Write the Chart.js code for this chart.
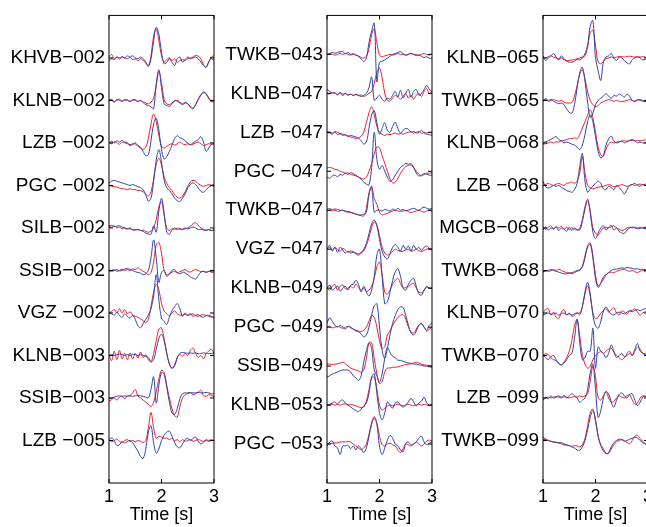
<!DOCTYPE html>
<html>
<head>
<meta charset="utf-8">
<script src="https://cdn.jsdelivr.net/npm/chart.js@4.4.1/dist/chart.umd.min.js"></script>
<style>
	html, body { margin: 0; padding: 0; background: #fff; }
	body { position: relative; width: 646px; height: 527px; overflow: hidden; }
	canvas { position: absolute; top: 0; }
</style>
</head>
<body>
<canvas id="panel1" width="224" height="527" style="left:0px"></canvas>
<canvas id="panel2" width="226" height="527" style="left:216px"></canvas>
<canvas id="panel3" width="226" height="527" style="left:432px"></canvas>
<script>
// sample times (s)
const times = [1.00, 1.05, 1.10, 1.15, 1.20, 1.25, 1.30, 1.35, 1.40, 1.45,
	1.50, 1.55, 1.60, 1.65, 1.70, 1.75, 1.80, 1.85, 1.90, 1.95,
	2.00, 2.05, 2.10, 2.15, 2.20, 2.25, 2.30, 2.35, 2.40, 2.45,
	2.50, 2.55, 2.60, 2.65, 2.70, 2.75, 2.80, 2.85, 2.90, 2.95,
	3.00];
const xTicks = [1, 2, 3];

const namesA = ['KHVB\u2212002', 'KLNB\u2212002', 'LZB \u2212002', 'PGC \u2212002', 'SILB\u2212002', 'SSIB\u2212002', 'VGZ \u2212002', 'KLNB\u2212003', 'SSIB\u2212003', 'LZB \u2212005'];
const namesB = ['TWKB\u2212043', 'KLNB\u2212047', 'LZB \u2212047', 'PGC \u2212047', 'TWKB\u2212047', 'VGZ \u2212047', 'KLNB\u2212049', 'PGC \u2212049', 'SSIB\u2212049', 'KLNB\u2212053', 'PGC \u2212053'];
const namesC = ['KLNB\u2212065', 'TWKB\u2212065', 'KLNB\u2212068', 'LZB \u2212068', 'MGCB\u2212068', 'TWKB\u2212068', 'KLNB\u2212070', 'TWKB\u2212070', 'LZB \u2212099', 'TWKB\u2212099'];

// amplitudes, 1 = spacing between traces
const redA = [
	[0.02,0.08,-0.02,0.02,-0.03,0.02,0,-0.02,0.01,-0.04, -0.02,-0.07,-0.02,-0.06,-0.12,-0.18,0.05,0.52,0.68,0.4, 0.05,-0.1,-0.04,0,-0.06,-0.02,-0.1,-0.06,-0.04,-0.06, -0.02,0,0.02,0.06,0.04,-0.02,-0.16,-0.22,-0.1,0.02, 0.05],
	[-0.02,0.03,-0.04,0,0.03,-0.02,0,0.02,-0.03,0, 0.02,-0.02,0,-0.04,-0.06,-0.08,-0.04,0.05,0.35,0.68, 0.42,0.02,-0.08,-0.1,-0.06,-0.02,0,-0.04,-0.08,-0.05, -0.08,-0.14,-0.18,-0.1,0.02,0.12,0.18,0.16,0.06,-0.02, -0.02],
	[0.02,-0.02,0.03,0,-0.03,0.02,0,-0.02,-0.06,-0.04, -0.02,-0.08,-0.12,-0.15,-0.1,0.1,0.45,0.68,0.5,0.18, -0.08,-0.12,-0.08,-0.04,-0.02,-0.05,-0.02,0.02,-0.02,-0.04, -0.02,-0.05,-0.03,0,0.02,-0.02,-0.06,-0.04,-0.02,-0.03, -0.02],
	[0,-0.02,-0.03,-0.04,-0.06,-0.08,-0.08,-0.1,-0.08,-0.1, -0.1,-0.12,-0.12,-0.15,-0.2,-0.25,-0.15,0.15,0.5,0.64, 0.48,0.2,0.05,-0.05,-0.12,-0.22,-0.28,-0.3,-0.25,-0.15, -0.02,0.08,0.12,0.1,0.04,0,-0.02,0,0.02,0, -0.02],
	[0.04,0.02,0.05,0,0.02,-0.02,0,-0.03,-0.02,-0.05, -0.04,-0.03,-0.06,-0.05,-0.08,-0.1,-0.08,0,0.2,0.5, 0.62,0.3,0,-0.06,-0.02,-0.04,0,-0.02,-0.04,-0.02, 0,0.04,0.1,0.12,0.06,0,-0.03,-0.05,-0.04,-0.06, -0.05],
	[-0.02,0,0.02,-0.02,0,0.03,0,0.02,0,0.04, 0.02,0.06,0.02,-0.02,-0.05,-0.1,-0.05,0.2,0.6,0.66, 0.4,0,-0.1,-0.08,-0.04,-0.02,-0.05,-0.03,0,0.02, -0.02,-0.04,0,0.02,0,-0.03,-0.02,-0.05,-0.02,-0.04, -0.03],
	[0,0.04,0.08,0,0.1,0,0.08,-0.02,0.03,-0.04, -0.08,-0.1,-0.14,-0.18,-0.23,-0.15,0.15,0.5,0.67,0.55, 0.22,0.05,-0.02,-0.06,0,0.05,-0.02,-0.05,-0.05,-0.03, -0.06,-0.04,-0.02,-0.06,-0.08,-0.05,-0.04,-0.06,-0.05,-0.08, -0.1],
	[0,-0.12,0.1,-0.1,0.12,-0.08,0.05,-0.1,0.06,-0.08, 0.05,-0.06,0.08,-0.05,0.02,-0.1,-0.15,0.05,0.35,0.62, 0.65,0.4,0.05,-0.2,-0.3,-0.22,-0.05,0.02,-0.02,0.05, 0,0.12,0.17,0.05,-0.05,0,-0.08,0.05,0.1,0.15, 0.05],
	[-0.08,-0.04,0,-0.05,0.02,0.04,-0.02,0.05,0.06,0.12, 0.2,0.05,0,-0.05,-0.1,-0.15,-0.2,-0.1,0.15,0.45, 0.65,0.6,0.3,0,-0.25,-0.42,-0.45,-0.2,0,0.08, 0.1,0.12,0.08,0.1,0.14,0.18,0.06,0.04,0.08,0.06, 0.04],
	[0.02,-0.03,0,0.03,-0.02,-0.05,0,0.02,-0.02,0, -0.03,0,-0.02,-0.05,0,0.3,0.66,0.3,0.05,0.1, 0.08,0.05,0.06,0.02,0.05,0,0.02,-0.03,0.02,-0.02, 0,0.02,-0.02,0,0.02,0,-0.02,0.02,0,0.02, 0]
];
const blueA = [
	[-0.06,-0.02,-0.04,0.02,0,0.03,0,0.05,0.02,0.05, 0,-0.02,0.02,-0.02,-0.1,-0.2,-0.02,0.4,0.72,0.56, 0.13,-0.14,-0.1,-0.02,-0.1,-0.18,-0.02,0.02,-0.1,-0.04, 0.02,-0.02,0,0.02,-0.02,-0.1,-0.18,-0.22,-0.09,-0.02, -0.06],
	[0.02,0,-0.03,0.02,0,-0.02,0.02,0,-0.02,0.02, 0,-0.03,0,-0.05,-0.1,-0.12,-0.15,-0.2,0.4,0.72, 0.3,-0.08,-0.12,-0.14,-0.08,0,-0.02,-0.06,-0.1,-0.06, -0.08,-0.16,-0.2,-0.1,0.03,0.14,0.2,0.15,0.04,-0.03, -0.02],
	[0,0.04,0,0.05,0.02,0.06,0.02,0,-0.04,-0.02, 0,-0.06,-0.1,-0.2,-0.3,-0.28,0.05,0.45,0.58,0.3, -0.15,-0.38,-0.32,-0.2,-0.05,0.1,0.17,0.12,0.1,0.05, 0,-0.04,0,0.04,0.08,0.15,0.02,-0.2,-0.12,-0.04, -0.02],
	[0.05,0.1,0.12,0.1,0.08,0.06,0.04,0.02,0,0.02, 0,-0.03,-0.05,-0.1,-0.22,-0.37,-0.3,0.1,0.6,0.84, 0.55,0.12,-0.05,-0.12,-0.2,-0.3,-0.36,-0.38,-0.3,-0.2, -0.06,0.02,0.06,0.02,-0.06,-0.14,-0.16,-0.1,-0.04,0, 0.02],
	[0.05,0.06,0.03,0.04,0.05,0.02,0,-0.02,0,-0.04, -0.05,-0.04,-0.06,-0.08,-0.12,-0.14,-0.15,0.05,-0.1,0.4, 0.7,0.35,-0.1,-0.15,-0.05,0,-0.04,-0.02,-0.03,0, -0.02,0,0.02,0,-0.04,-0.03,-0.05,-0.06,-0.04,-0.06, -0.05],
	[0,-0.02,0,0.02,-0.01,0,0.03,0.05,0.02,0, -0.03,-0.05,-0.06,-0.1,-0.08,0,0.3,0.72,0.3,-0.28, -0.05,0,-0.14,-0.08,0,0.02,-0.06,-0.08,-0.04,-0.06, -0.1,-0.15,-0.18,-0.2,-0.12,-0.04,-0.02,-0.04,-0.02,-0.03, -0.04],
	[0,-0.02,-0.05,0.02,-0.06,-0.1,-0.02,-0.08,-0.12,-0.06, -0.15,-0.3,-0.35,-0.25,-0.15,-0.05,0.1,0.4,0.9,0.3, -0.12,-0.2,-0.27,-0.1,0.05,0.15,0.22,0.1,-0.08,0, -0.05,-0.02,-0.08,-0.06,-0.04,-0.08,-0.1,-0.06,-0.08,-0.1, -0.1],
	[0,0.02,0,0.02,0.03,0.02,0,0.02,0,0.03, 0.02,0,0.02,0,-0.02,-0.05,-0.15,-0.1,0.15,0.4, 0.5,0.35,0.05,-0.2,-0.3,-0.25,-0.05,0.05,0.07,0.06, 0.05,0.06,0.05,0.06,0.04,0.05,0.06,0.05,0.04,0.05, 0.05],
	[-0.02,0,0.02,0.04,0.05,0.04,0.05,0.04,0.05,0.04, 0.05,0.06,0.05,0.04,0.02,0,0.2,0.5,-0.12,0.3, 0.6,0.55,0.25,-0.1,-0.35,-0.39,-0.25,-0.02,0.1,0.12, 0.12,0.13,0.12,0.12,0.13,0.12,0.12,0.13,0.12,0.1, 0.1],
	[0.02,0.06,0,-0.12,-0.1,-0.02,-0.06,-0.02,0,-0.05, -0.15,-0.25,-0.38,-0.42,-0.2,0.2,0.35,-0.05,-0.3,-0.2, 0,0.12,0.2,0.22,0.1,-0.05,-0.15,-0.17,-0.08,0.02, 0.05,0,0.05,0.08,-0.02,-0.08,-0.04,0,-0.02,0, 0]
];

const redB = [
	[0,0.02,0,-0.02,0,0.03,0,0.02,0,-0.02, 0,-0.02,-0.04,-0.08,-0.1,-0.05,0.15,0.5,0.66,0.3, -0.02,-0.06,-0.04,-0.02,0,-0.02,0,0.02,0,0, -0.02,0,0.02,0,0,-0.02,0,0.02,0,-0.02, 0.02],
	[0,-0.02,0.02,0,-0.03,0.02,-0.02,0,-0.04,-0.02, -0.05,-0.03,-0.06,-0.04,-0.08,-0.05,0,0.05,0.25,0.55, 0.65,0.4,0,-0.18,-0.2,-0.12,-0.05,-0.1,-0.15,-0.08, 0,-0.12,-0.05,-0.15,-0.05,0,-0.08,0.05,0.12,0, 0.05],
	[0.02,0,-0.02,0.02,0,-0.03,-0.05,-0.08,-0.1,-0.12, -0.14,-0.16,-0.14,-0.1,0,0.25,0.5,0.66,0.45,0.15, 0,-0.05,-0.08,-0.05,-0.06,-0.04,-0.02,-0.05,-0.03,-0.05, -0.02,0,0.02,-0.02,0,0.02,-0.03,0,-0.02,0, -0.02],
	[0.08,0.1,0.08,0.05,0.04,0,-0.02,-0.05,-0.04,-0.08, -0.1,-0.12,-0.15,-0.18,-0.2,-0.15,0,0.2,0.45,0.62, 0.6,0.4,0.2,0,-0.2,-0.3,-0.28,-0.18,-0.05,0.05, 0.12,0.15,0.16,0.1,0,-0.08,-0.12,-0.08,-0.05,-0.05, -0.04],
	[-0.02,0,-0.02,0,-0.03,-0.02,0,-0.04,-0.05,-0.06, -0.08,-0.1,-0.12,-0.14,-0.15,0.05,0.45,0.62,0.3,0.15, -0.05,-0.12,-0.1,-0.08,-0.05,-0.02,0,-0.02,-0.03,-0.02, 0,-0.03,-0.06,-0.04,-0.02,0,-0.03,-0.05,-0.02,0, -0.02],
	[0,0.05,-0.02,0.04,0,-0.05,0.02,-0.02,-0.08,-0.05, -0.06,-0.1,-0.12,-0.08,-0.05,0.1,0.3,0.55,0.7,0.62, 0.35,0.05,-0.1,-0.15,-0.12,-0.05,0,-0.03,-0.06,-0.05, -0.02,0,-0.05,-0.03,0,-0.04,-0.06,-0.03,0,0.02, 0],
	[0,-0.05,0.05,0.1,-0.05,0.05,0.08,-0.02,0,0.05, 0,0.1,0.02,-0.05,0,-0.08,-0.05,0.05,0.25,0.55, 0.67,0.35,-0.1,-0.15,-0.05,0.1,0.2,0.25,0.12,0, 0.02,0.05,0.1,0.12,0,-0.1,-0.12,-0.05,0.02,0, 0],
	[0,0.02,-0.02,0,0.02,0,-0.03,0,0.02,-0.02, -0.05,-0.08,-0.1,-0.12,-0.08,0,0.15,0.3,0.25,0, -0.35,-0.55,-0.5,-0.2,-0.1,0.05,0.15,0.25,0.3,0.32, 0.2,0,-0.12,-0.15,-0.05,0.05,0.08,0,-0.1,-0.05, 0],
	[0.05,0.05,0.04,0.05,0.06,0.08,0.1,0.06,0,-0.05, -0.08,-0.1,-0.12,-0.16,-0.1,0.2,0.6,0.6,0.2,-0.2, -0.45,-0.4,-0.15,-0.05,-0.05,-0.03,-0.03,-0.02,0,0.02, 0.04,0.05,0.06,0.08,0.1,0.08,0.05,0.03,0.02,0.02, 0],
	[0,0,0.02,0,0.02,0,0.02,0.03,0,0.02, 0,-0.02,-0.05,-0.06,-0.05,0.1,0.4,0.7,0.72,0.4, 0,-0.13,-0.08,-0.03,0,-0.02,0,0.02,0,-0.02, 0,0.02,0,-0.02,0,0.02,0,0.02,0,-0.02, 0],
	[0,0.01,0.02,0.03,0.03,0.05,0.06,0.05,0.07,0.05, 0,-0.05,-0.1,-0.14,-0.1,0,0.25,0.55,0.7,0.55, 0.2,-0.02,-0.05,0,0.02,-0.02,-0.05,-0.15,-0.22,-0.12, 0,-0.02,-0.05,0,0.05,0,-0.05,0,0.08,0.1, 0.08]
];
const blueB = [
	[0,0.02,0.05,0.03,0.05,0.07,0.07,0.02,0.05,0, 0.02,-0.02,-0.05,-0.12,-0.18,-0.1,0.3,0.6,0.8,-0.7, -0.2,-0.18,-0.14,-0.1,-0.05,0,0.02,0.05,0.07,0.02, -0.02,0,0.03,0,-0.03,-0.02,-0.05,-0.08,-0.06,-0.1, -0.1],
	[0.1,0.05,0,0.02,-0.04,0.02,-0.06,0,-0.05,-0.02, -0.06,-0.02,-0.05,-0.08,-0.05,0,0.15,0.42,-0.18,-0.12, -0.05,-0.15,-0.2,-0.12,-0.15,-0.05,0.05,-0.1,0.08,-0.12, 0,0.1,-0.1,0.05,0.1,-0.05,0,0.1,0.2,0.1, 0.05],
	[0,-0.02,-0.05,0,-0.06,-0.04,-0.08,-0.05,-0.1,-0.08, -0.1,-0.12,-0.15,-0.22,-0.3,-0.25,0.1,0.45,0.55,0.25, -0.05,0.1,0.25,0.05,0,0.15,0.26,0.1,-0.02,0.05, 0.1,0.08,0,0.02,-0.02,0,0.05,-0.02,-0.05,-0.06, -0.08],
	[-0.15,-0.18,-0.12,-0.1,-0.14,-0.08,-0.1,-0.05,-0.08,-0.04, -0.06,-0.1,-0.15,-0.2,-0.28,-0.33,-0.35,0.1,1.0,0.3, 0.05,0.15,0,-0.15,-0.26,-0.22,-0.1,0,0.1,0.15, 0.2,0.18,0.2,0.1,-0.05,-0.12,-0.1,-0.06,-0.08,-0.1, -0.1],
	[0.03,0.04,0.02,0.03,0.02,0,0,-0.02,-0.03,-0.05, -0.07,-0.1,-0.12,-0.12,-0.1,-0.05,0.4,0.58,-0.05,0, 0,-0.02,0.02,0,-0.02,0.03,0,0.05,0,0.02, -0.02,0,0.03,0.05,0.02,0,0.05,0.08,0.05,0.03, 0.05],
	[0,0.1,-0.05,0.05,-0.08,0.05,-0.02,-0.1,-0.05,-0.1, -0.08,-0.12,-0.15,-0.1,0,0.15,0.4,0.65,0.75,0.6, 0.25,-0.05,-0.2,-0.25,-0.12,0.05,0.12,0.05,-0.05,0.1, 0,0.08,-0.05,0.1,0,0.05,-0.03,0.05,0.08,0.02, -0.02],
	[0,0.08,-0.05,0,0.05,-0.08,0,0.05,-0.05,0.08, 0.1,0.2,0.1,-0.1,0.05,-0.1,-0.2,-0.05,0.3,0.85, 1.0,0.3,-0.4,-0.35,-0.1,0.2,0.42,0.5,0.3,0, -0.05,0.1,0.2,0.25,0.05,-0.15,-0.18,-0.05,0.05,0, 0],
	[0.1,0.24,0.15,0.05,0,0.05,0,-0.05,0.02,0, -0.05,-0.1,-0.12,-0.18,-0.25,-0.2,0,0.3,0.55,0.6, 0,-0.6,-0.8,-0.55,-0.2,0.1,0.3,0.45,0.52,0.5, 0.3,0.05,-0.15,-0.2,-0.1,0.05,0.1,0,-0.08,0.05, 0.1],
	[-0.28,-0.25,-0.2,-0.18,-0.15,-0.12,-0.1,-0.1,-0.1,-0.15, -0.25,-0.3,-0.37,-0.25,0.1,0.4,0.6,0.45,-0.1,-0.25, -0.41,-0.2,0.2,0.48,0.35,0.25,0.22,0.15,0.15,0.12, 0.1,0.08,0.07,0.05,0.05,0.03,0.02,0,0,-0.02, -0.03],
	[0,0.02,0.05,0.08,0.03,0.1,0.13,0.05,0,-0.05, -0.1,-0.14,-0.17,-0.1,-0.02,0.05,0.3,0.72,0.8,0.3, -0.2,-0.38,-0.2,0.08,0,-0.08,0.05,0.08,0,-0.05, 0,0.08,0.17,0.08,-0.02,0.05,0.1,0.2,0.05,0, 0.02],
	[-0.05,0.05,0.08,-0.05,-0.1,-0.27,-0.05,-0.05,-0.03,-0.12, -0.05,-0.15,-0.05,-0.12,-0.22,-0.1,0.2,0.5,0.66,0.5, -0.05,-0.27,-0.1,0.1,0.22,0.15,0,-0.05,-0.15,-0.2, 0.02,0.05,-0.02,0,0.05,0.15,0.2,0.05,-0.02,0.02, 0.05]
];

const redC = [
	[0.02,0,0.03,0.05,0.02,0,-0.02,0,-0.04,-0.06, -0.06,-0.05,-0.04,-0.02,0,0.02,0.05,0.25,0.6,0.65, 0.3,-0.1,-0.14,-0.08,-0.02,0,0.02,0,0.02,0.03, 0.03,0.02,0.03,0.04,0.03,0.02,0.03,0.02,0.03,0.02, 0.02],
	[0,0.02,-0.02,0,0.02,0,-0.02,0,-0.04,-0.06, -0.06,-0.05,0.1,0.35,0.62,0.72,0.5,0.2,0,-0.1, -0.15,-0.12,-0.06,-0.03,0,0.02,0,-0.02,0,-0.02, -0.03,-0.02,0,0.02,0,-0.02,0,0.02,0,-0.02, 0],
	[-0.03,-0.02,0,0.02,0,0.03,0.02,0.05,0.06,0.08, 0.1,0.1,0.12,0.1,0.2,0.35,0.5,0.65,0.78,0.6, 0.25,-0.1,-0.28,-0.31,-0.15,-0.02,0.02,0,0.02,0.03, 0.04,0.05,0.04,0.05,0.06,0.05,0.06,0.05,0.06,0.07, 0.08],
	[0,0.02,0.05,0.02,0,0.03,0.05,0.02,0,0.05, 0.06,0.08,0.05,0.1,0.3,0.68,0.3,0,-0.05,-0.08, -0.06,-0.04,-0.03,-0.02,0,0.02,0,-0.03,-0.02,0, 0.02,0,-0.02,0,0.02,0,0.02,0.03,0.02,0.03, 0.02],
	[0,-0.03,0.02,0.05,-0.02,0.03,0,0.04,-0.03,0.02, -0.04,0,-0.03,-0.05,0,0.2,0.5,0.68,0.4,0, -0.12,-0.17,-0.08,0,0.02,0,0.03,0.05,0,-0.03, -0.06,-0.04,0,0.02,0,0.02,0,0.02,0,0.02, 0.02],
	[-0.04,0,-0.02,-0.01,0.02,0,0.03,0,-0.03,-0.05, -0.06,-0.08,-0.05,-0.02,0,0.1,0.35,0.58,0.65,0.35, -0.1,-0.36,-0.3,-0.22,-0.1,-0.05,-0.04,-0.05,-0.02,0, 0.02,0.03,0,-0.02,0,-0.03,-0.05,-0.02,0,-0.03, -0.04],
	[0,0.08,0.1,-0.05,0.02,-0.1,-0.13,0.02,0.08,-0.05, 0,-0.08,-0.05,0,0,0.15,0.45,0.64,0.4,0, -0.13,-0.1,0,0.05,0.1,0.02,0.08,0.12,0,-0.05, 0.05,0.02,-0.03,0.05,0.06,0.1,0.02,-0.05,0,0.03, 0.02],
	[0,0.04,0.02,-0.05,-0.1,-0.12,-0.2,-0.22,-0.15,-0.05, 0.1,0.35,0.7,0.85,0.45,0,-0.2,-0.3,-0.25,-0.1, 0,0.05,0.1,0.05,0.1,0.15,0.17,0.08,0,-0.05, -0.1,-0.05,0.05,0.1,0,0.1,0.2,0.15,0.05,0.05, 0.05],
	[-0.05,0,0.02,0,0.02,0.03,0.02,0,0.03,0.02, 0,0.02,0.03,0.02,0.05,0.03,0.05,0.1,0.4,0.75, 0.5,0,-0.05,0.05,0.15,0,-0.1,-0.08,0,0.05, 0.02,0,0.05,0.08,-0.05,-0.15,-0.12,0,0.05,0.03, 0.02],
	[0.08,0.04,0,-0.02,-0.04,-0.05,-0.06,-0.08,-0.1,-0.12, -0.12,-0.14,-0.12,-0.13,-0.15,-0.1,0.05,0.35,0.65,0.74, 0.45,0.1,-0.1,-0.2,-0.3,-0.31,-0.2,-0.1,-0.03,0, 0.02,0,-0.05,-0.08,0,0.1,0.12,0.05,-0.02,-0.08, -0.08]
];
const blueC = [
	[0.05,-0.06,0,0.05,0.1,0.02,-0.05,0.05,-0.02,-0.08, -0.1,-0.1,-0.08,-0.03,-0.05,0,0.1,0.3,0.75,0.88, 0,-0.3,-0.53,-0.1,0.02,0.05,0.1,0,-0.06,0.02, 0,-0.06,-0.12,-0.14,-0.04,0,0.02,0,-0.05,-0.03, -0.02],
	[-0.03,0.04,0,0.02,-0.02,-0.05,-0.08,-0.06,-0.1,-0.2, -0.28,-0.3,-0.1,0.3,0.65,0.78,0.45,-0.05,-0.4,-0.3, -0.1,0,0.05,0.1,0.16,0.1,0.05,0.12,0.1,0.15, 0.12,0.08,0.15,0.1,0,-0.02,0.02,0,-0.02,-0.03, -0.03],
	[0,0.03,0.05,0.08,0.12,0.15,0.08,0.05,0,0.02, 0,-0.03,-0.05,-0.1,-0.15,-0.05,0.2,0.5,0.66,0.5, 0.15,-0.2,-0.35,-0.3,-0.05,0.1,0.16,0.05,0,0.02, 0.05,0,0.03,0.06,0.08,0.05,0,0.02,0,0, 0],
	[0.1,-0.03,-0.06,-0.04,0,-0.02,0,-0.05,-0.08,-0.12, -0.14,-0.16,-0.1,0.05,0.45,0.75,0.1,-0.16,-0.08,-0.02, 0.05,0.1,0.05,-0.08,-0.1,-0.02,-0.05,-0.1,0,-0.05, -0.12,-0.2,-0.1,0,0.02,0.05,0,-0.02,0.02,0, 0],
	[-0.05,0.02,-0.05,0,-0.02,0.02,-0.06,0,-0.03,-0.08, 0.02,-0.06,0,-0.04,-0.05,0.15,0.45,0.64,0.35,-0.1, -0.25,-0.12,0,0.05,-0.05,0.02,0.06,-0.05,0,-0.08, -0.12,-0.13,-0.05,0,0.02,0,-0.02,-0.01,0,-0.02, -0.02],
	[-0.03,-0.02,0,0.02,0,-0.02,-0.04,-0.06,-0.08,-0.08, -0.06,-0.05,-0.03,0,0.02,0.08,0.3,0.55,0.61,0.3, -0.2,-0.4,-0.3,-0.15,-0.1,-0.05,0,0.03,0.03,0.05, 0.06,0.05,0.07,0.06,0.05,0.03,0.04,0.02,0.03,0.02, 0.03],
	[-0.05,-0.02,0,-0.03,-0.02,0,-0.05,-0.02,0,-0.04, -0.02,-0.05,-0.02,0,-0.04,0.15,0.5,0.72,0.45,-0.05, -0.3,-0.36,-0.2,0.05,0.14,0.05,-0.03,-0.05,0,0.02, 0,-0.02,0.02,0.05,0.03,0.06,0.08,0.05,0.08,0.1, 0.08],
	[0,-0.05,-0.1,-0.03,0,-0.1,-0.18,-0.22,-0.18,-0.1, 0,0.05,0.4,0.85,0.3,-0.1,-0.05,0.1,0.1,0.64, -0.3,0.2,0.1,0.05,-0.05,0.05,0.25,0.1,-0.05,0, 0.05,-0.03,0,0.05,0,0.15,0.28,0.1,0.05,0.02, 0.02],
	[-0.05,0.02,-0.02,0.05,0,0.02,0.05,0.02,0.06,0, 0.05,0.1,0.05,0,-0.1,-0.05,0,0.2,0.6,0.8, 0.2,-0.46,-0.3,0,0.15,0.1,-0.1,-0.22,-0.05,0.08, 0.12,0.05,0,0.08,0.1,-0.05,-0.18,-0.1,0.02,0.05, 0.05],
	[0.03,0.02,0,-0.02,-0.03,-0.04,-0.05,-0.05,-0.08,-0.1, -0.12,-0.15,-0.18,-0.22,-0.23,-0.15,0,0.25,0.55,0.7, 0.5,0.1,-0.12,-0.25,-0.31,-0.28,-0.15,-0.05,0,0.03, 0.02,-0.02,0,0.03,0.05,0.08,0.06,0,-0.05,-0.08, -0.08]
];

(() => {
	'use strict'

	const redColor = 'rgb(236,32,44)';
	const blueColor = 'rgb(48,68,168)';

	Chart.defaults.font.family = '"Liberation Sans", Arial, Helvetica, sans-serif';
	Chart.defaults.font.size = 18;
	Chart.defaults.color = '#000';

	// MATLAB-style box with inward ticks
	const boxPlugin = {
		id: 'box',
		afterDatasetsDraw(chart) {
			const { ctx, chartArea: area, scales } = chart;
			ctx.save();
			ctx.strokeStyle = '#000';
			ctx.lineWidth = 1;
			ctx.strokeRect(area.left, area.top, area.right - area.left, area.bottom - area.top);
			ctx.beginPath();
			scales.y.ticks.forEach((tick) => {
				const py = scales.y.getPixelForValue(tick.value);
				ctx.moveTo(area.left, py);
				ctx.lineTo(area.left + 4, py);
				ctx.moveTo(area.right, py);
				ctx.lineTo(area.right - 4, py);
			});
			scales.x.ticks.forEach((tick) => {
				const px = scales.x.getPixelForValue(tick.value);
				ctx.moveTo(px, area.top);
				ctx.lineTo(px, area.top + 4);
				ctx.moveTo(px, area.bottom);
				ctx.lineTo(px, area.bottom - 4);
			});
			ctx.stroke();
			ctx.restore();
		}
	};

	function traceData(values, index) {
		return times.map((t, k) => ({ x: t, y: index + 1 - values[k] }));
	}

	function lineSet(label, data, color) {
		return {
			label: label,
			data: data,
			borderColor: color,
			borderWidth: 1,
			pointRadius: 0,
			tension: 0.35,
			fill: false
		};
	}

	function drawPanel(canvasId, names, red, blue, axisWidth) {
		const datasets = [];
		names.forEach((name, i) => {
			datasets.push(lineSet(name + ' blue', traceData(blue[i], i), blueColor));
		});
		names.forEach((name, i) => {
			datasets.push(lineSet(name + ' red', traceData(red[i], i), redColor));
		});

		return new Chart(document.getElementById(canvasId), {
			type: 'line',
			data: { datasets },
			options: {
				responsive: false,
				animation: false,
				events: [],
				layout: { padding: { left: 0, right: 10, top: 10, bottom: 0 } },
				plugins: {
					legend: { display: false },
					tooltip: { enabled: false }
				},
				scales: {
					x: {
						type: 'linear',
						min: 1,
						max: 3,
						grid: { display: false, drawTicks: false },
						border: { display: false },
						afterBuildTicks: (scale) => {
							scale.ticks = xTicks.map((v) => ({ value: v }));
						},
						afterFit: (scale) => {
							scale.height = 44;
						},
						ticks: {
							padding: 3,
							maxRotation: 0,
							callback: (value) => value
						},
						title: {
							display: true,
							text: 'Time [s]',
							padding: { top: 0, bottom: 1 }
						}
					},
					y: {
						type: 'linear',
						reverse: true,
						min: 0,
						max: names.length + 1,
						grid: { display: false, drawTicks: false },
						border: { display: false },
						afterBuildTicks: (scale) => {
							scale.ticks = names.map((n, i) => ({ value: i + 1 }));
						},
						afterFit: (scale) => {
							scale.width = axisWidth;
						},
						ticks: {
							padding: 4,
							autoSkip: false,
							font: { size: 19 },
							callback: (value) => names[Math.round(value) - 1]
						}
					}
				}
			},
			plugins: [boxPlugin]
		});
	}

	drawPanel('panel1', namesA, redA, blueA, 109);
	drawPanel('panel2', namesB, redB, blueB, 111);
	drawPanel('panel3', namesC, redC, blueC, 111);
})()
</script>
</body>
</html>
